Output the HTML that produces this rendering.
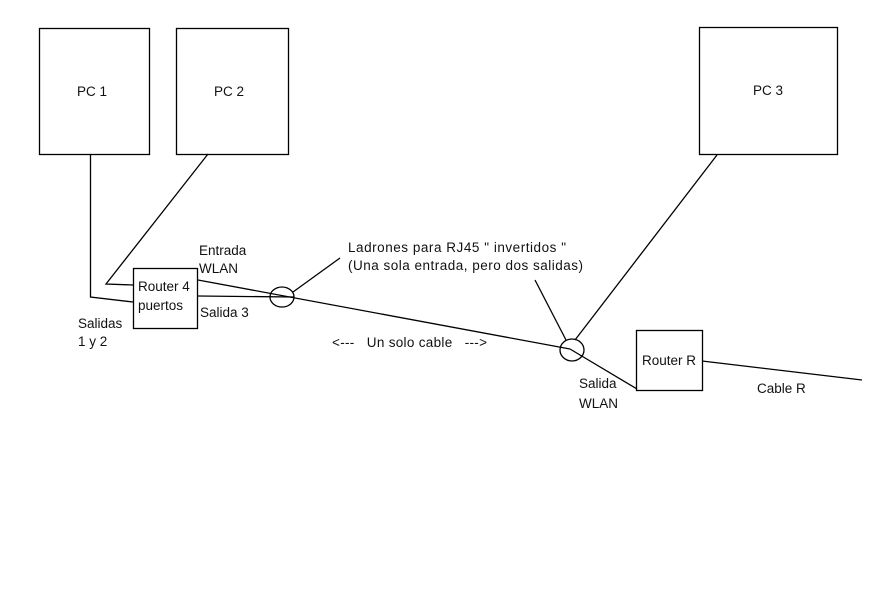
<!DOCTYPE html>
<html><head><meta charset="utf-8"><style>
html,body{margin:0;padding:0;background:#fff;}
svg{display:block;}
text{font-family:"Liberation Sans","DejaVu Sans",sans-serif;font-size:13.5px;fill:#111;}
</style></head><body>
<svg width="871" height="593" viewBox="0 0 871 593" xmlns="http://www.w3.org/2000/svg">
<g fill="none" stroke="#000" stroke-width="1.3">
<rect x="39.5" y="28.5" width="110" height="126"/>
<rect x="176.5" y="28.5" width="112" height="126"/>
<rect x="699.5" y="27.5" width="138" height="127"/>
<rect x="133.5" y="268.5" width="64" height="60"/>
<rect x="636.5" y="330.5" width="66" height="60"/>
<polyline points="90.5,154 90.5,297 133,302"/>
<polyline points="208,154 106,284 133,285"/>
<line x1="198" y1="280" x2="570" y2="349"/>
<line x1="570" y1="349" x2="637" y2="389"/>
<line x1="198" y1="296" x2="294" y2="297"/>
<ellipse cx="282" cy="297" rx="12" ry="10"/>
<ellipse cx="572" cy="350" rx="12" ry="11"/>
<line x1="293" y1="292" x2="340" y2="258"/>
<line x1="535" y1="280" x2="566" y2="340"/>
<line x1="717" y1="155" x2="575" y2="340"/>
<line x1="702" y1="361" x2="862" y2="380"/>
</g>
<text x="77" y="96">PC 1</text>
<text x="214" y="96">PC 2</text>
<text x="753" y="95">PC 3</text>
<text x="138" y="291">Router 4</text>
<text x="138" y="310">puertos</text>
<text x="642" y="365">Router R</text>
<text x="199" y="255">Entrada</text>
<text x="199" y="273">WLAN</text>
<text x="200" y="317">Salida 3</text>
<text x="78" y="328">Salidas</text>
<text x="78" y="346">1 y 2</text>
<text x="348" y="252" textLength="218">Ladrones para RJ45 " invertidos "</text>
<text x="348" y="270" textLength="235">(Una sola entrada, pero dos salidas)</text>
<text x="332" y="347" textLength="155" xml:space="preserve">&lt;---   Un solo cable   ---&gt;</text>
<text x="579" y="388">Salida</text>
<text x="579" y="408">WLAN</text>
<text x="757" y="393">Cable R</text>
</svg>
</body></html>
